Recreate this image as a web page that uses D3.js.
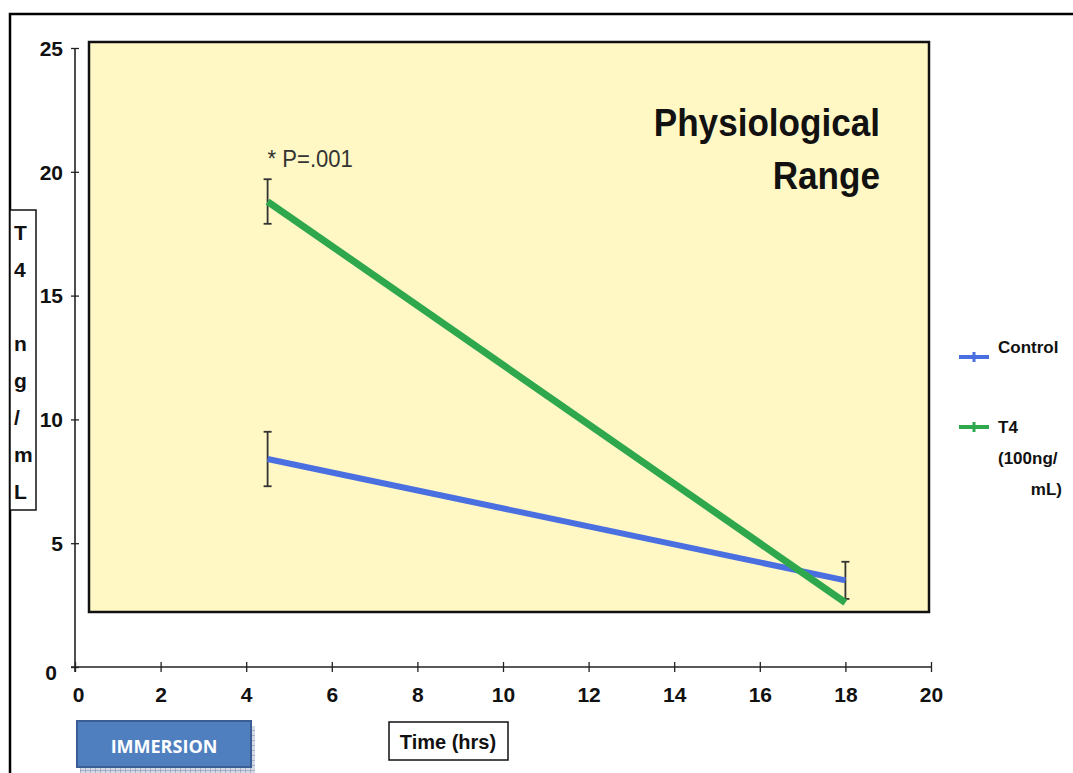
<!DOCTYPE html>
<html>
<head>
<meta charset="utf-8">
<script src="https://cdn.jsdelivr.net/npm/d3@7"></script>
<style>
  body { margin: 0; background: #fff; }
  text { font-family: "Liberation Sans", Arial, sans-serif; }
</style>
</head>
<body>
<div id="root"></div>
<script>
const times = [4.5, 18];
const controlValues = [8.4, 3.5];
const controlErrors = [1.1, 0.75];
const t4Values = [18.8, 2.6];
const t4Errors = [0.9, 0];
const xTicks = [0, 2, 4, 6, 8, 10, 12, 14, 16, 18, 20];
const yTicks = [0, 5, 10, 15, 20, 25];
const yLabelLetters = ["T", "4", "", "n", "g", "/", "m", "L"];

const w = 1073;
const h = 773;

const svg = d3.select("#root")
  .append("svg")
  .attr("width", w)
  .attr("height", h);

const xScale = d3.scaleLinear().domain([0, 20]).range([75, 931]);
const yScale = d3.scaleLinear().domain([0, 25]).range([667, 48]);

// outer frame
svg.append("path")
  .attr("d", `M10,${h} L10,14 L${w},14`)
  .attr("fill", "none")
  .attr("stroke", "#000")
  .attr("stroke-width", 2.5);

// yellow plot area
svg.append("rect")
  .attr("x", 89)
  .attr("y", 42)
  .attr("width", 840)
  .attr("height", 570)
  .attr("fill", "#fff8c4")
  .attr("stroke", "#111")
  .attr("stroke-width", 2.5);

// axes
const xAxis = d3.axisBottom(xScale).tickValues(xTicks).tickSize(0).tickFormat(d3.format("d"));
const yAxis = d3.axisLeft(yScale).tickValues(yTicks).tickSize(0);

const gx = svg.append("g").attr("transform", `translate(0, ${yScale(0)})`).call(xAxis);
const gy = svg.append("g").attr("transform", `translate(${xScale(0)}, 0)`).call(yAxis);

gx.select(".domain").attr("stroke", "#222").attr("stroke-width", 1.6).attr("d", `M${xScale(0) - 4},0H${xScale(20)}`);
gy.select(".domain").attr("stroke", "#222").attr("stroke-width", 1.6).attr("d", `M0,${yScale(25)}V${yScale(0) + 5}`);

gx.selectAll(".tick line").attr("y1", -5).attr("y2", 5).attr("stroke", "#222").attr("stroke-width", 1.3);
gy.selectAll(".tick line").attr("x1", -4).attr("x2", 4).attr("stroke", "#222").attr("stroke-width", 1.3);

gx.selectAll(".tick text")
  .attr("y", 28)
  .attr("dy", "0.35em")
  .attr("fill", "#111")
  .style("font-size", "21px")
  .style("font-weight", "bold")
  .style("font-family", "'Liberation Sans', Arial, sans-serif");
gx.selectAll(".tick").filter(d => d === 0).select("text").attr("x", 3);

gy.selectAll(".tick text")
  .attr("x", -12)
  .attr("dy", "0.35em")
  .attr("fill", "#111")
  .style("font-size", "21px")
  .style("font-weight", "bold")
  .style("font-family", "'Liberation Sans', Arial, sans-serif");
gy.selectAll(".tick").filter(d => d === 0).select("text").attr("x", -18).attr("dy", "0.6em");

// y axis label box
svg.append("rect")
  .attr("x", 10)
  .attr("y", 210)
  .attr("width", 26)
  .attr("height", 300)
  .attr("fill", "#fff")
  .attr("stroke", "#111")
  .attr("stroke-width", 1.5);

svg.append("g")
  .selectAll("text")
  .data(yLabelLetters)
  .join("text")
  .attr("x", 14)
  .attr("y", (d, i) => 240 + i * 37)
  .attr("fill", "#111")
  .style("font-size", "21px")
  .style("font-weight", "bold")
  .text(d => d);

// series
const series = [
  { name: "Control", values: controlValues, errors: controlErrors, color: "#4a6fe0", width: 6 },
  { name: "T4", values: t4Values, errors: t4Errors, color: "#2fa84d", width: 7 }
];

const line = d3.line()
  .x(d => xScale(d[0]))
  .y(d => yScale(d[1]));

series.forEach(s => {
  const pts = times.map((t, i) => [t, s.values[i], s.errors[i]]);
  const eb = svg.append("g").attr("stroke", "#333").attr("stroke-width", 1.8);
  pts.filter(p => p[2] > 0).forEach(p => {
    eb.append("line")
      .attr("x1", xScale(p[0])).attr("x2", xScale(p[0]))
      .attr("y1", yScale(p[1] + p[2])).attr("y2", yScale(p[1] - p[2]));
    [p[1] + p[2], p[1] - p[2]].forEach(v => {
      eb.append("line")
        .attr("x1", xScale(p[0]) - 4).attr("x2", xScale(p[0]) + 4)
        .attr("y1", yScale(v)).attr("y2", yScale(v));
    });
  });
});

series.forEach(s => {
  const pts = times.map((t, i) => [t, s.values[i]]);
  svg.append("path")
    .datum(pts)
    .attr("d", line)
    .attr("fill", "none")
    .attr("stroke", s.color)
    .attr("stroke-width", s.width);
});

// annotation
svg.append("text")
  .attr("transform", `translate(${xScale(4.5)}, 167) scale(0.92, 1)`)
  .attr("fill", "#333")
  .style("font-size", "24px")
  .text("* P=.001");

svg.append("text")
  .attr("transform", "translate(880, 0) scale(0.9, 1)")
  .attr("text-anchor", "end")
  .attr("fill", "#111")
  .style("font-size", "39px")
  .style("font-weight", "bold")
  .selectAll("tspan")
  .data(["Physiological", "Range"])
  .join("tspan")
  .attr("x", 0)
  .attr("y", (d, i) => 136 + i * 53)
  .text(d => d);

// legend
const legend = svg.append("g");
const legendRows = [
  { color: "#4a6fe0", y: 357, lines: ["Control"] },
  { color: "#2fa84d", y: 427, lines: ["T4", "(100ng/", "mL)"] }
];
legendRows.forEach(r => {
  legend.append("line")
    .attr("x1", 959).attr("x2", 989)
    .attr("y1", r.y).attr("y2", r.y)
    .attr("stroke", r.color).attr("stroke-width", 4);
  legend.append("line")
    .attr("x1", 974).attr("x2", 974)
    .attr("y1", r.y - 5).attr("y2", r.y + 5)
    .attr("stroke", r.color).attr("stroke-width", 3);
  const t = legend.append("text")
    .attr("fill", "#111")
    .style("font-size", "17px")
    .style("font-weight", "bold");
  r.lines.forEach((l, i) => {
    t.append("tspan")
      .attr("x", i === 2 ? 1062 : 998)
      .attr("text-anchor", i === 2 ? "end" : "start")
      .attr("y", r.lines.length > 1 ? r.y + 6 + i * 31 : r.y - 4)
      .text(l);
  });
});

// x axis title box
svg.append("rect")
  .attr("x", 389).attr("y", 722)
  .attr("width", 119).attr("height", 38)
  .attr("fill", "#fff").attr("stroke", "#111").attr("stroke-width", 1.5);
svg.append("text")
  .attr("x", 448).attr("y", 749)
  .attr("text-anchor", "middle")
  .attr("fill", "#111")
  .style("font-size", "20px")
  .style("font-weight", "bold")
  .text("Time (hrs)");

// immersion box
const pattern = svg.append("defs").append("pattern")
  .attr("id", "hatch").attr("width", 5).attr("height", 5)
  .attr("patternUnits", "userSpaceOnUse");
pattern.append("rect").attr("width", 5).attr("height", 5).attr("fill", "#d4dae6");
pattern.append("path").attr("d", "M0,0H5M0,0V5").attr("stroke", "#7d8aa3").attr("stroke-width", 1);

svg.append("rect")
  .attr("x", 80).attr("y", 726)
  .attr("width", 175).attr("height", 47)
  .attr("fill", "url(#hatch)");
svg.append("rect")
  .attr("x", 77).attr("y", 721)
  .attr("width", 174).attr("height", 46)
  .attr("fill", "#4f7fbf").attr("stroke", "#3b5f95").attr("stroke-width", 2);
svg.append("text")
  .attr("x", 164).attr("y", 753)
  .attr("text-anchor", "middle")
  .attr("fill", "#fff")
  .style("font-family", "'Open Sans', sans-serif")
  .style("font-size", "18px")
  .style("font-weight", "bold")
  .text("IMMERSION");
</script>
</body>
</html>
